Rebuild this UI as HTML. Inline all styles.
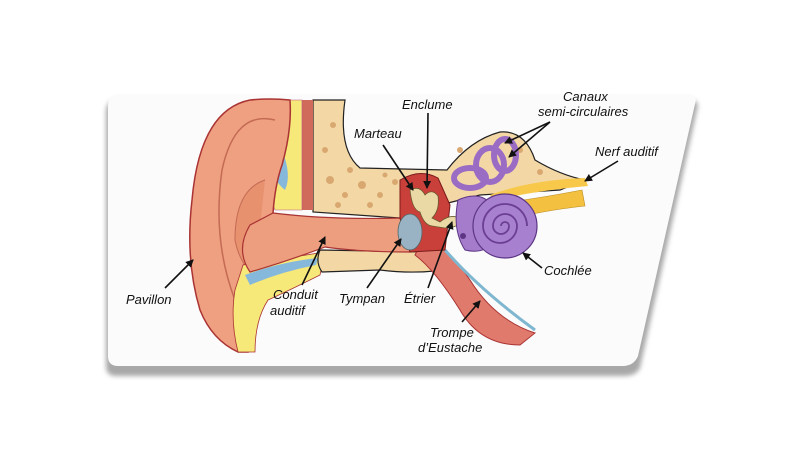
<!DOCTYPE html>
<html><head><meta charset="utf-8"><style>
html,body{margin:0;padding:0;background:#fff;width:800px;height:450px;overflow:hidden}
svg{display:block}
text{font-family:"Liberation Sans",sans-serif;font-style:italic;font-size:13px;fill:#111}
</style></head><body>
<svg width="800" height="450" viewBox="0 0 800 450" xmlns="http://www.w3.org/2000/svg">
<defs>
<marker id="ah" markerWidth="8" markerHeight="8" refX="7" refY="4" orient="auto" markerUnits="userSpaceOnUse">
<path d="M0,0 L8,4 L0,8 z" fill="#111"/></marker>
<filter id="bl"><feGaussianBlur stdDeviation="2.5"/></filter>
</defs>
<!-- card shadow -->
<path d="M118,100 L690,100 Q700,100 697,110 L640,368 Q636,376 624,376 L116,376 Q106,376 106,366 L106,112 Q106,100 118,100 z" fill="#a8a8a8" filter="url(#bl)"/>
<path d="M120,94 L688,94 Q698,94 695,104 L638,356 Q634,366 622,366 L118,366 Q108,366 108,356 L108,106 Q108,94 120,94 z" fill="#fbfbfb"/>
<!-- bone tan upper -->
<path d="M313,100 L345,100 Q338,150 360,168 L447,170 Q470,140 500,132 Q525,130 535,160 Q560,175 585,180 L560,190 L480,195 L440,205 L400,218 L313,212 z" fill="#f3d8a6" stroke="#222" stroke-width="1.2"/>
<g fill="#d9a871">
<circle cx="330" cy="180" r="4"/><circle cx="345" cy="195" r="3"/><circle cx="362" cy="185" r="4"/><circle cx="380" cy="195" r="3"/>
<circle cx="370" cy="205" r="3"/><circle cx="325" cy="150" r="3"/><circle cx="333" cy="125" r="3"/><circle cx="395" cy="182" r="3"/>
<circle cx="520" cy="150" r="3"/><circle cx="540" cy="172" r="3"/><circle cx="460" cy="150" r="3"/>
<circle cx="350" cy="170" r="3"/><circle cx="385" cy="175" r="2.5"/><circle cx="338" cy="205" r="3"/>
</g>
<!-- red stripe -->
<rect x="302" y="100" width="11" height="110" fill="#d06a5a"/>
<!-- yellow fat upper -->
<path d="M262,100 L302,100 L302,210 L275,210 Q262,180 268,150 Q255,130 262,100 z" fill="#f7e87a" stroke="#b58" stroke-width="0.6"/>
<path d="M268,140 Q280,130 282,150 Q292,175 285,190 Q272,180 270,160 z" fill="#86b8dc"/>
<!-- pinna -->
<path d="M290,100 Q270,98 250,100 Q200,110 192,200 Q185,260 200,310 Q212,340 238,352 L248,352 Q245,330 245,300 Q240,275 245,262 L273,258 Q260,230 273,213 Q275,185 282,165 Q292,130 290,100 z" fill="#eea080" stroke="#a33" stroke-width="1.5"/>
<path d="M275,120 Q235,110 222,170 Q212,240 235,300" fill="none" stroke="#c46a55" stroke-width="1.5"/>
<path d="M265,180 Q235,190 235,240 Q240,265 255,275" fill="#e8916f" stroke="#c46a55" stroke-width="1"/>
<!-- lower yellow -->
<path d="M243,265 L325,252 L320,275 Q290,290 268,300 Q255,320 255,352 L238,352 Q230,320 235,290 z" fill="#f7e87a" stroke="#a33" stroke-width="0.8"/>
<path d="M245,275 Q280,262 318,258 L316,265 Q280,272 250,285 z" fill="#86b8dc"/>
<!-- lower bone band -->
<path d="M320,250 L430,252 L455,268 Q420,275 380,270 L322,272 Q315,262 320,250 z" fill="#f3d8a6" stroke="#222" stroke-width="1.2"/>
<!-- canal -->
<path d="M273,213 Q330,220 400,218 L410,252 Q360,252 325,247 Q285,262 250,272 Q235,250 250,225 z" fill="#ec9e7f" stroke="#a33" stroke-width="1.2"/>
<!-- eustachian tube -->
<path d="M425,235 Q450,250 470,280 Q495,320 535,333 L520,345 Q480,345 460,310 Q435,270 415,255 z" fill="#e07a6c" stroke="#a33" stroke-width="1"/>
<path d="M445,250 Q480,290 535,330" fill="none" stroke="#7fb7d0" stroke-width="3"/>
<!-- middle ear chamber -->
<path d="M400,180 Q420,168 438,178 L450,205 L445,250 L410,252 L400,218 z" fill="#c9403a" stroke="#7a1a1a" stroke-width="1"/>
<!-- tympanum -->
<ellipse cx="410" cy="232" rx="12" ry="18" fill="#9ab3c4" stroke="#566" stroke-width="0.8"/>
<!-- ossicles -->
<path d="M410,190 Q420,185 425,195 Q432,188 438,196 Q440,210 432,218 L440,222 Q452,212 462,220 Q458,228 445,228 L432,226 Q424,225 420,212 Q412,210 410,190 z" fill="#ead8a5" stroke="#6a5a30" stroke-width="0.8"/>
<!-- nerve -->
<path d="M490,195 Q530,180 585,178 L588,186 Q540,190 495,200 z" fill="#f7c84a"/>
<path d="M485,205 Q530,200 582,190 L585,206 Q530,212 490,225 z" fill="#f4c040" stroke="#b88a20" stroke-width="0.6"/>
<!-- semicircular canals -->
<g fill="none" stroke="#9b6cc4" stroke-width="6">
<ellipse cx="490" cy="165" rx="14" ry="17"/>
<ellipse cx="505" cy="155" rx="11" ry="16"/>
<ellipse cx="470" cy="178" rx="16" ry="10"/>
</g>
<!-- vestibule -->
<path d="M458,200 Q480,190 492,205 L495,240 Q485,255 465,250 Q452,230 458,200 z" fill="#a57bcc" stroke="#5d3585" stroke-width="1"/>
<circle cx="463" cy="236" r="3" fill="#5d3585"/>
<!-- cochlea -->
<circle cx="505" cy="226" r="32" fill="#a880d0" stroke="#5d3585" stroke-width="1.2"/>
<path d="M505,226 m-4,0 a4,4 0 1,1 8,0 a8,8 0 1,1 -16,0 a12,12 0 1,1 24,0 a17,17 0 1,1 -34,0 a22,22 0 1,1 44,0" fill="none" stroke="#6b3f93" stroke-width="1.8"/>
<!-- arrows -->
<g stroke="#111" stroke-width="1.6" marker-end="url(#ah)">
<line x1="165" y1="288" x2="193" y2="260"/>
<line x1="302" y1="285" x2="325" y2="237"/>
<line x1="367" y1="288" x2="401" y2="239"/>
<line x1="428" y1="288" x2="452" y2="222"/>
<line x1="383" y1="145" x2="413" y2="190"/>
<line x1="428" y1="113" x2="427" y2="188"/>
<line x1="550" y1="122" x2="505" y2="143"/>
<line x1="550" y1="122" x2="509" y2="157"/>
<line x1="542" y1="268" x2="523" y2="253"/>
<line x1="462" y1="322" x2="480" y2="301"/>
<line x1="618" y1="161" x2="585" y2="181"/>
</g>
<!-- labels -->
<text x="402" y="109">Enclume</text>
<text x="563" y="101">Canaux</text>
<text x="538" y="116">semi-circulaires</text>
<text x="354" y="138">Marteau</text>
<text x="595" y="156">Nerf auditif</text>
<text x="544" y="275">Cochlée</text>
<text x="126" y="304">Pavillon</text>
<text x="273" y="299">Conduit</text>
<text x="270" y="315">auditif</text>
<text x="339" y="303">Tympan</text>
<text x="404" y="303">Étrier</text>
<text x="430" y="337">Trompe</text>
<text x="418" y="352">d’Eustache</text>
</svg>
</body></html>
